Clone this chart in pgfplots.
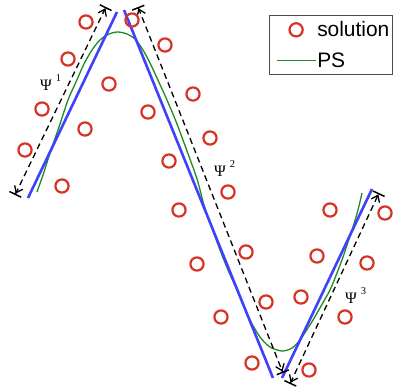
\documentclass[border=0pt]{standalone}
\usepackage{pgfplots}
\pgfplotsset{compat=1.18}
\usetikzlibrary{arrows.meta}
\usepackage{fontspec}
\setmainfont{Liberation Sans}
\newfontfamily\seriffont{Liberation Serif}
\definecolor{myred}{RGB}{214,52,38}
\definecolor{myblue}{RGB}{64,64,255}
\definecolor{mygreen}{RGB}{30,140,30}
\newcommand{\psilab}[1]{{\seriffont\fontsize{16}{16}\selectfont Ψ\hspace{4bp}\raisebox{9bp}{\fontsize{10.5}{10.5}\selectfont #1}}}
\begin{document}
\begin{tikzpicture}
\begin{axis}[
  scale only axis, width=396bp, height=391bp,
  xmin=0, xmax=396, ymin=0, ymax=391, y dir=reverse,
  axis lines=none, clip=false,
  legend style={at={(axis cs:269,15)}, anchor=north west, draw=black!70, line width=1pt,
    font=\fontsize{21}{23}\selectfont, inner xsep=1.5bp, inner ysep=4bp,
    row sep=10.5bp, column sep=0bp, cells={anchor=west}, nodes={inner xsep=1.5bp, inner ysep=2bp}},
  legend image code/.code={\path (0bp,0bp); \draw[mark repeat=2,mark phase=2,#1] plot coordinates {(5bp,0bp) (24bp,0bp) (43bp,0bp)};},
  legend cell align=left,
]
% red solution circles
\addplot[only marks, mark=o, mark size=6.6bp, myred, line width=2.2bp, mark options={solid}] coordinates {
(86,22) (132,20) (165,45) (68,59) (109,84) (193,94) (42,109) (148,112) (85,129)
(210,138) (25,150) (169,161) (62,186) (228,192) (179,210) (197,264)
(330,210) (385,213) (246,252) (317,256) (367,263) (266,302) (301,297)
(221,317) (345,317) (252,363) (309,370)
};
\addlegendentry{solution}
% green PS curve
\addplot[mygreen, line width=1.3bp, smooth, tension=0.5] coordinates {
(37,192) (44,172) (50,153) (59,127) (68,100) (76,82) (84,64) (92,50) (100,40) (109,34)
(118,32) (127,34) (135,39) (143,50) (150,63) (157,78) (167,100) (177,124) (187,151)
(197,179) (204,205) (212,228) (220,250) (228,270) (237,290) (244,306) (250,320)
(260,337) (270,347) (282,351) (292,348) (300,340) (306,331) (313,320) (321,306)
(330,290) (337,273) (343,257) (348,242) (353,227) (358,210) (362,193)
};
\addlegendentry{PS}
% blue segments
\addplot[myblue, line width=2.6bp, forget plot] coordinates {(28,198) (117,12)};
\addplot[myblue, line width=2.6bp, forget plot] coordinates {(124,10) (273,378)};
\addplot[myblue, line width=2.6bp, forget plot] coordinates {(282,378) (372,189)};
% dashed double arrows
\addplot[black, line width=1.3bp, dash pattern=on 6bp off 4bp, forget plot,
  arrows={Bar[width=13bp,line width=1.5bp]Straight Barb[length=6bp,width=9bp,line width=1.3bp]-Straight Barb[length=6bp,width=9bp,line width=1.3bp]Bar[width=13bp,line width=1.5bp]}]
  coordinates {(15,195) (106,7)};
\addplot[black, line width=1.3bp, dash pattern=on 6bp off 4bp, forget plot,
  arrows={Bar[width=13bp,line width=1.5bp]Straight Barb[length=6bp,width=9bp,line width=1.3bp]-Straight Barb[length=6bp,width=9bp,line width=1.3bp]Bar[width=13bp,line width=1.5bp]}]
  coordinates {(138,7) (283,373)};
\addplot[black, line width=1.3bp, dash pattern=on 6bp off 4bp, forget plot,
  arrows={Bar[width=13bp,line width=1.5bp]Straight Barb[length=6bp,width=9bp,line width=1.3bp]-Straight Barb[length=6bp,width=9bp,line width=1.3bp]Bar[width=13bp,line width=1.5bp]}]
  coordinates {(290,384) (379,193)};
\node[anchor=base west, inner sep=0pt] at (axis cs:40,91) {\psilab{1}};
\node[anchor=base west, inner sep=0pt] at (axis cs:214,176) {\psilab{2}};
\node[anchor=base west, inner sep=0pt] at (axis cs:345,303) {\psilab{3}};
\end{axis}
\pgfresetboundingbox
\path[use as bounding box] (0,0) rectangle (396bp,391bp);
\end{tikzpicture}
\end{document}
